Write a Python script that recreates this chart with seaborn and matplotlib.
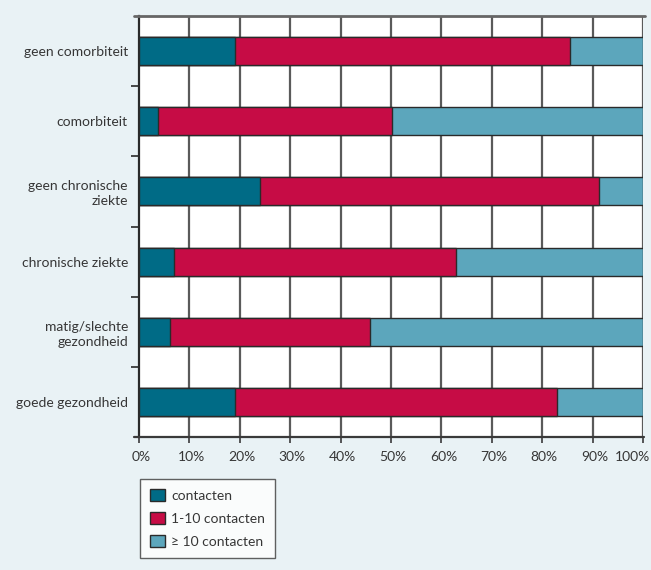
import matplotlib
matplotlib.use("Agg")
import matplotlib.pyplot as plt
import matplotlib.transforms as mtransforms
import seaborn as sns
import pandas as pd
import numpy as np
from matplotlib.patches import Patch
from matplotlib.ticker import FixedLocator

categories = ["geen comorbiteit", "comorbiteit", "geen chronische\nziekte",
              "chronische ziekte", "matig/slechte\ngezondheid", "goede gezondheid"]
contacten = [19.1, 3.8, 24.0, 7.0, 6.2, 19.0]
contacten_1_10 = [66.4, 46.3, 67.3, 55.8, 39.7, 64.0]
contacten_10plus = [14.5, 49.9, 8.7, 37.2, 54.1, 17.0]
series_labels = ["contacten", "1-10 contacten", "\u2265 10 contacten"]
xtick_labels = ["0%", "10%", "20%", "30%", "40%", "50%", "60%", "70%", "80%", "90%", "100%"]

colors = ["#006b86", "#c60c45", "#5ca6bc"]
bg = "#e9f2f5"
txt = "#363636"

sns.set_style("white")
plt.rcParams["font.family"] = ["Lato", "DejaVu Sans"]
plt.rcParams["font.size"] = 10
plt.rcParams["text.color"] = txt

fig = plt.figure(figsize=(6.51, 5.70), dpi=100, facecolor=bg)
ax = fig.add_axes([139/651, 1-437/570, (643-139)/651, (437-16)/570])
ax.set_facecolor("white")

c1 = np.array(contacten)
c2 = c1 + np.array(contacten_1_10)
c3 = c2 + np.array(contacten_10plus)
layers = [(c3, colors[2]), (c2, colors[1]), (c1, colors[0])]
for vals, col in layers:
    df = pd.DataFrame({"cat": categories, "val": vals})
    sns.barplot(data=df, x="val", y="cat", orient="h", color=col, width=0.4,
                edgecolor="#2a2a2a", linewidth=1.0, saturation=1, ax=ax, zorder=3)

ax.set_xlim(0, 100)
ax.set_ylim(len(categories) - 0.5, -0.5)
ax.set_xticks(np.arange(0, 101, 10))
ax.set_xticklabels(xtick_labels)
ax.set_xlabel("")
ax.set_ylabel("")

ax.grid(False)
for xv in np.arange(10, 101, 10):
    ax.axvline(xv, color="#5a5a5a", lw=1.6, zorder=1)

for s in ["right", "top"]:
    ax.spines[s].set_visible(False)
ax.spines["left"].set_color("#2a2a2a")
ax.spines["left"].set_linewidth(1.6)
ax.spines["bottom"].set_visible(False)
ax.plot([-1.0, 100.2], [len(categories) - 0.5] * 2, color="#3a3a3a", lw=1.6,
        clip_on=False, zorder=5)
ax.plot([-1.0, 100.4], [-0.5, -0.5], color="#666666", lw=2.0, clip_on=False, zorder=5)

ax.tick_params(axis="x", direction="out", length=4, width=1.2, color="#3a3a3a",
               colors=txt, pad=6, bottom=True)
ax.tick_params(axis="y", which="major", length=0, pad=8, colors=txt)
ax.yaxis.set_minor_locator(FixedLocator(np.arange(0.5, len(categories) - 1, 1)))
ax.tick_params(axis="y", which="minor", direction="out", length=6, width=1.2,
               color="#2a2a2a", left=True)
for lab in ax.get_yticklabels():
    lab.set_multialignment("right")
    lab.set_linespacing(1.3)

xl = ax.get_xticklabels()
for lab in xl:
    lab.set_transform(lab.get_transform() + mtransforms.ScaledTranslation(2/100, 0, fig.dpi_scale_trans))
xl[-1].set_transform(xl[-1].get_transform() + mtransforms.ScaledTranslation(-13/100, 0, fig.dpi_scale_trans))

handles = [Patch(facecolor=c, edgecolor="#2a2a2a", linewidth=1.0) for c in colors]
leg = fig.legend(handles, series_labels, loc="upper left",
                 bbox_to_anchor=(140/651, 1-479/570), bbox_transform=fig.transFigure,
                 frameon=True, fancybox=False, borderaxespad=0, handlelength=1.08,
                 handleheight=1.0, handletextpad=0.45, labelspacing=0.72,
                 borderpad=0.72, fontsize=10)
leg.get_frame().set_edgecolor("#3a3a3a")
leg.get_frame().set_linewidth(1.0)
leg.get_frame().set_facecolor("white")

fig.savefig("out.png", dpi=100, facecolor=bg)
